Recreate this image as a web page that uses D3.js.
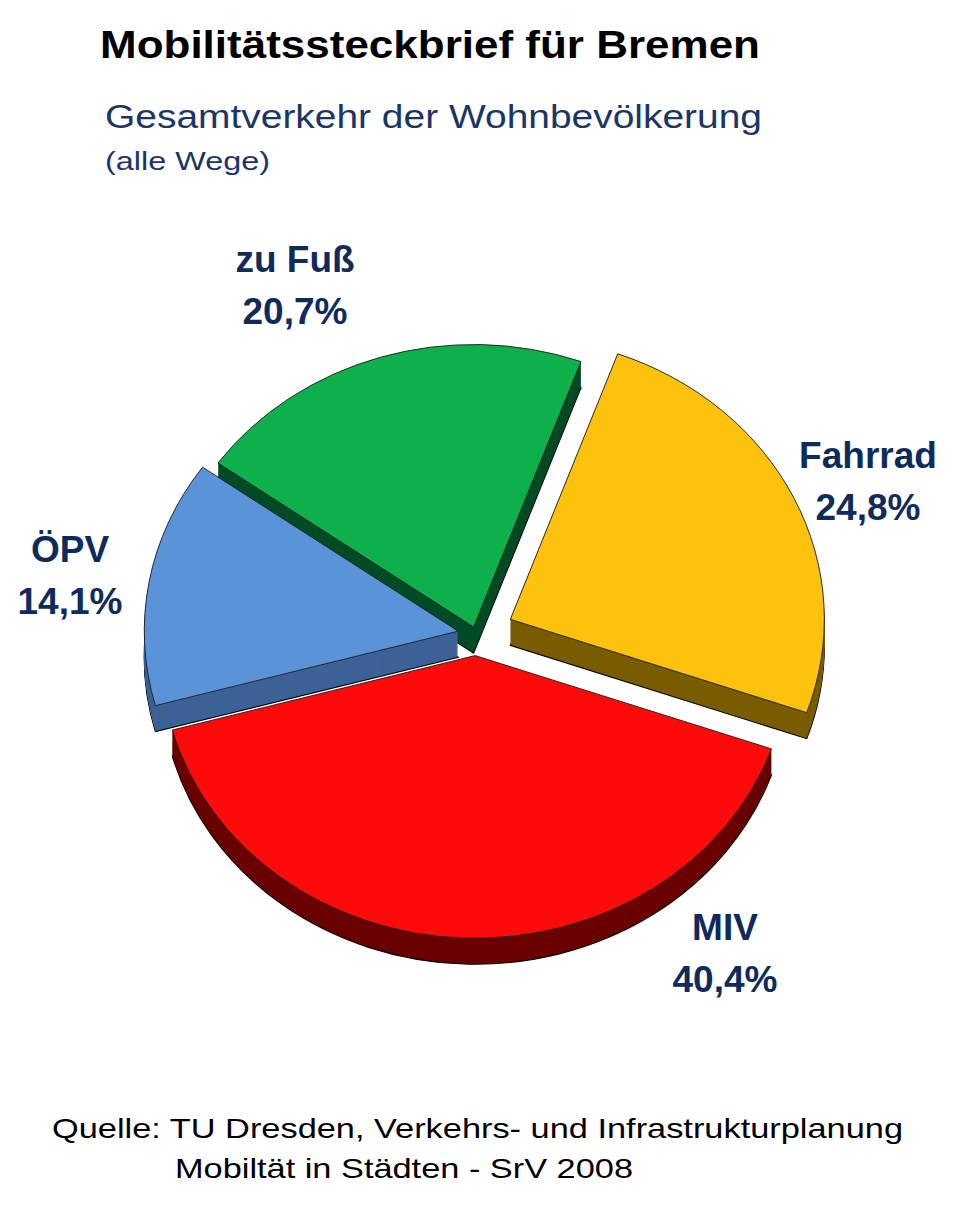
<!DOCTYPE html><html><head><meta charset="utf-8">
<script src="https://cdn.jsdelivr.net/npm/d3@7"></script>
<style>body{margin:0;background:#fff}</style></head><body>
<script>
const categories=["Fahrrad","MIV","ÖPV","zu Fuß"];
const values=[24.8,40.4,14.1,20.7];
const labels=["24,8%","40,4%","14,1%","20,7%"];
const topColors=["#FDC20E","#FF0A0A","#5B93D8","#0DB04B"];
const sideColors=["#7A5C00","#6A0000","#3D6298","#004C26"];
const explode=[38,24,18,8];
const W=960,H=1227,cx=476,cy=634,R=314,sy=0.9,depth=26,start=20*Math.PI/180;
const svg=d3.select("body").append("svg").attr("width",W).attr("height",H);
const pie=d3.pie().sort(null).startAngle(start).endAngle(start+2*Math.PI)(values);
const arc=d3.arc().innerRadius(0).outerRadius(R);
const order=[3,2,0,1];
order.forEach(i=>{
  const d=pie[i],m=(d.startAngle+d.endAngle)/2;
  const ox=Math.sin(m)*explode[i],oy=-Math.cos(m)*explode[i]*sy;
  const g=svg.append("g");
  for(let k=depth;k>0;k--){
    g.append("path").attr("d",arc(d)).attr("fill",sideColors[i])
     .attr("stroke",k==depth?"#000":"none").attr("stroke-width",1.2)
     .attr("transform",`translate(${cx+ox},${cy+oy+k}) scale(1,${sy})`);
  }
  g.append("path").attr("d",arc(d)).attr("fill",topColors[i]).attr("stroke","#222").attr("stroke-width",1)
   .attr("transform",`translate(${cx+ox},${cy+oy}) scale(1,${sy})`);
});
const lab=[[868,468],[725,940],[70,562],[295,272]];
const f="'Liberation Sans Narrow','Liberation Sans',Arial,sans-serif";
categories.forEach((c,i)=>{
  const t=svg.append("text").attr("text-anchor","middle").attr("font-family",f).attr("font-weight","bold")
   .attr("font-size",37).attr("fill","#0F2B5B");
  t.append("tspan").attr("x",lab[i][0]).attr("y",lab[i][1]).text(c);
  t.append("tspan").attr("x",lab[i][0]).attr("y",lab[i][1]+52).text(labels[i]);
});
const fs="'Liberation Sans',Arial,sans-serif";
function txt(x,y,s,fw,fill,len,str){
  svg.append("text").attr("x",x).attr("y",y).attr("font-family",fs).attr("font-weight",fw).attr("font-size",s)
   .attr("fill",fill).attr("textLength",len).attr("lengthAdjust","spacingAndGlyphs").text(str);
}
txt(100,58,38,"bold","#000",660,"Mobilitätssteckbrief für Bremen");
txt(105,128,33,"normal","#1A3566",657,"Gesamtverkehr der Wohnbevölkerung");
txt(105,170,26,"normal","#1A3566",165,"(alle Wege)");
txt(52,1138,28,"normal","#000",851,"Quelle: TU Dresden, Verkehrs- und Infrastrukturplanung");
txt(175,1178,28,"normal","#000",458,"Mobiltät in Städten - SrV 2008");
</script></body></html>
